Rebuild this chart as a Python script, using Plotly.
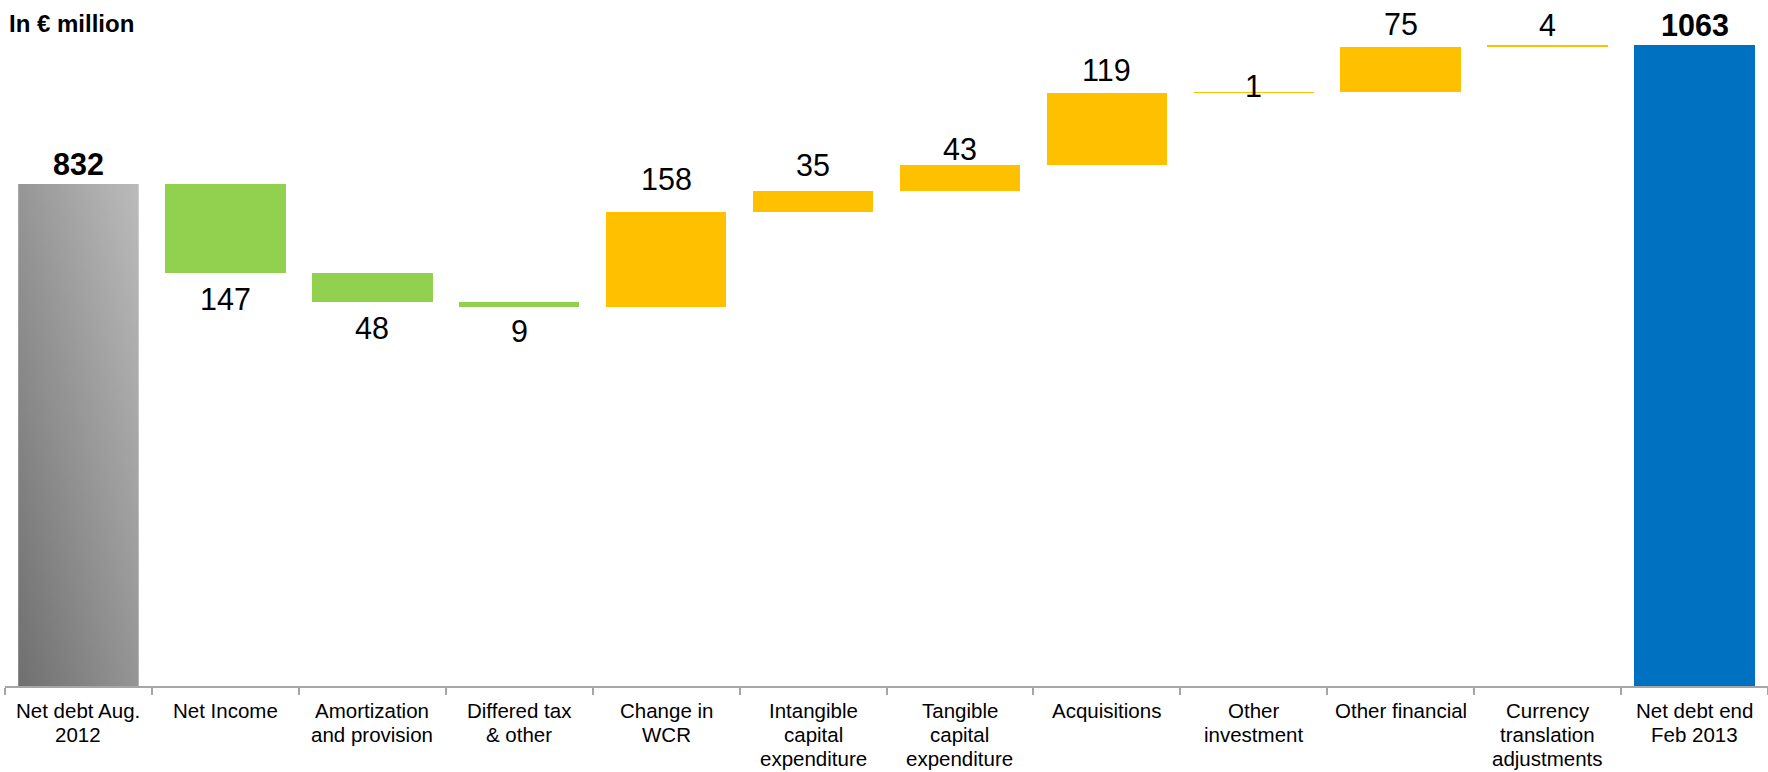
import plotly.graph_objects as go

# Net debt bridge, in € million
categories = [
    "Net debt Aug.<br>2012", "Net Income", "Amortization<br>and provision",
    "Differed tax<br>& other", "Change in<br>WCR", "Intangible<br>capital<br>expenditure",
    "Tangible<br>capital<br>expenditure", "Acquisitions", "Other<br>investment",
    "Other financial", "Currency<br>translation<br>adjustments", "Net debt end<br>Feb 2013",
]
opening_debt = 832
movements = [-147, -48, -9, 158, 35, 43, 119, 1, 75, 4]
closing_debt = 1063

GREEN = "#92D050"
YELLOW = "#FFC000"
BLUE = "#0070C0"
FONT = "Liberation Sans, Arial, sans-serif"
BAR_W = 0.82

# running totals for the floating bars
bases, heights, colors = [], [], []
level = opening_debt
for m in movements:
    if m < 0:
        bases.append(level + m)
        colors.append(GREEN)
    else:
        bases.append(level)
        colors.append(YELLOW)
    heights.append(abs(m))
    level += m

x_idx = list(range(len(categories)))
mid_x = x_idx[1:-1]

fig = go.Figure()

# opening balance: grey bar shaded with a horizontal gradient plus a vertical tint
x0, x1 = x_idx[0] - BAR_W / 2, x_idx[0] + BAR_W / 2
rect_x = [x0, x1, x1, x0, x0]
rect_y = [0, 0, opening_debt, opening_debt, 0]
fig.add_trace(go.Scatter(
    x=rect_x, y=rect_y, mode="lines", line=dict(width=0), fill="toself",
    fillgradient=dict(type="horizontal", colorscale=[[0, "#838383"], [1, "#afafaf"]]),
    hoverinfo="skip", showlegend=False,
))
fig.add_trace(go.Scatter(
    x=rect_x, y=rect_y, mode="lines", line=dict(width=0), fill="toself",
    fillgradient=dict(type="vertical", colorscale=[[0, "rgba(0,0,0,0.15)"], [1, "rgba(255,255,255,0.15)"]]),
    hoverinfo="skip", showlegend=False,
))

# movements
fig.add_trace(go.Bar(
    x=mid_x, y=heights, base=bases, width=BAR_W,
    marker=dict(color=colors, line=dict(width=0)), showlegend=False,
))

# closing balance
fig.add_trace(go.Bar(
    x=[x_idx[-1]], y=[closing_debt], width=BAR_W,
    marker=dict(color=BLUE, line=dict(width=0)), showlegend=False,
))

# value labels: above rising bars, below falling ones
label_shift = [20, -26, -26, -24, 33, 26, 16, 23, 6, 23, 20, 20]
label_y = [opening_debt]
for b, h, m in zip(bases, heights, movements):
    label_y.append(b if m < 0 else b + h)
label_y.append(closing_debt)
label_vals = [opening_debt] + [abs(m) for m in movements] + [closing_debt]
for i, (xv, yv, val, sh) in enumerate(zip(x_idx, label_y, label_vals, label_shift)):
    bold = i in (0, len(x_idx) - 1)
    fig.add_annotation(
        x=xv, y=yv, text=f"<b>{val}</b>" if bold else str(val),
        showarrow=False, yanchor="middle", yshift=sh,
        font=dict(family=FONT, size=30.5, color="black"),
    )

# category labels, one line at a time for a tight line pitch
LINE_PITCH = 24
for xv, cat in zip(x_idx, categories):
    for k, line in enumerate(cat.split("<br>")):
        fig.add_annotation(
            x=xv, xref="x", y=0, yref="paper", xanchor="center", yanchor="top",
            yshift=-(11 + k * LINE_PITCH), text=line, showarrow=False,
            font=dict(family=FONT, size=20.5, color="black"),
        )

fig.add_annotation(
    xref="paper", yref="paper", x=0, y=1, xanchor="left", yanchor="middle",
    xshift=2, yshift=-23, text="<b>In € million</b>", showarrow=False,
    font=dict(family=FONT, size=24, color="black"),
)

boundaries = [i - 0.5 for i in range(len(categories) + 1)]
fig.update_layout(
    width=1768, height=772, autosize=False,
    margin=dict(l=5, r=0, t=0, b=86, pad=0),
    plot_bgcolor="white", paper_bgcolor="white",
    bargap=0,
    xaxis=dict(
        range=[-0.5, len(categories) - 0.5], tickmode="array",
        tickvals=x_idx, showticklabels=False, ticks="",
        showline=True, linecolor="#a6a6a6", linewidth=2,
        showgrid=False, zeroline=False, automargin=False,
        minor=dict(tickmode="array", tickvals=boundaries, ticks="outside",
                   ticklen=7, tickwidth=2, tickcolor="#a6a6a6", showgrid=False),
    ),
    yaxis=dict(range=[0, 1137], visible=False, showgrid=False, zeroline=False,
               automargin=False),
)

fig.write_html("out.html")
